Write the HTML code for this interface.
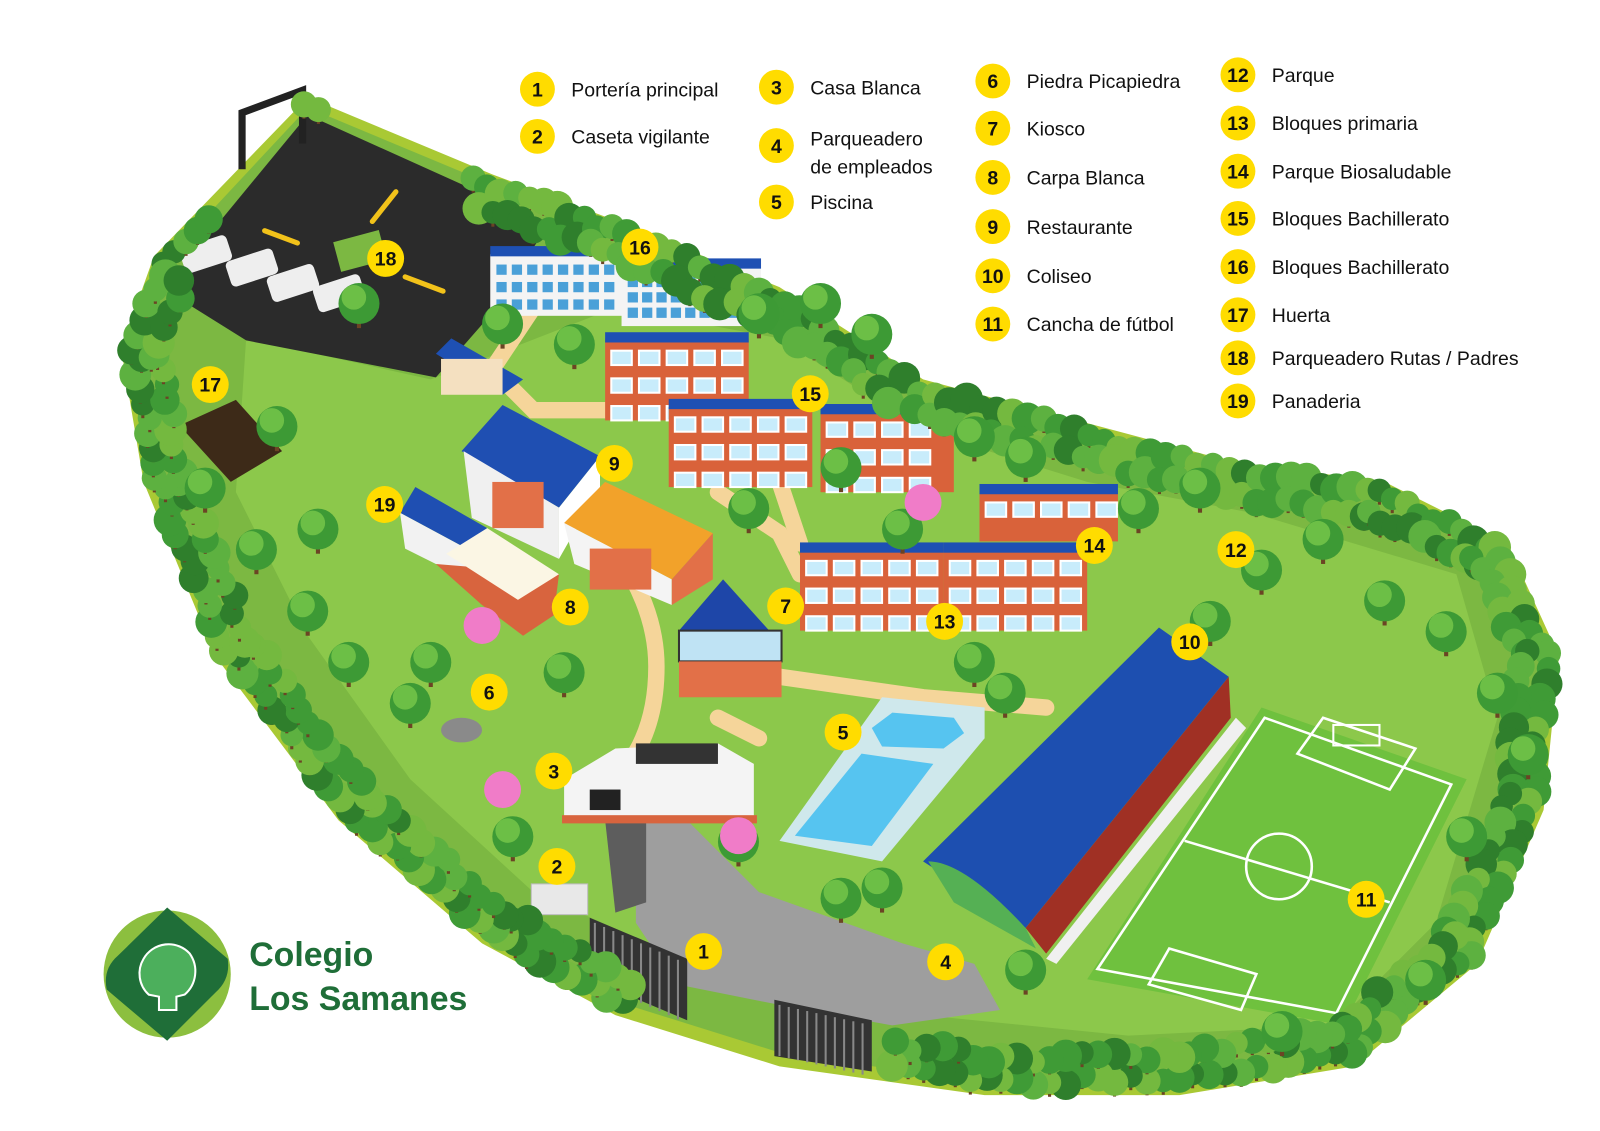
<!DOCTYPE html>
<html><head><meta charset="utf-8"><style>
html,body{margin:0;padding:0;background:#fff;}
svg{display:block}
text{font-family:"Liberation Sans",sans-serif}
</style></head><body>
<svg id="s" width="1600" height="1131" viewBox="0 0 1560 1103" preserveAspectRatio="none" xmlns="http://www.w3.org/2000/svg">
<rect width="1560" height="1103" fill="#fff"/>
<path d="M150,250 L300,95 L480,170 L600,215 L760,280 L900,370 L1050,410 L1200,450 L1350,470 L1470,530 L1520,640 L1505,790 L1440,940 L1320,1040 L1150,1068 L960,1068 L760,1040 L600,990 L470,920 L330,800 L210,640 L140,470 L118,340 Z" fill="#a9c934"/>
<path d="M160,255 L300,105 L480,180 L600,225 L760,290 L900,380 L1050,420 L1200,460 L1345,482 L1460,540 L1505,640 L1492,785 L1428,930 L1312,1028 L1150,1055 L960,1055 L765,1028 L605,978 L478,910 L340,792 L222,635 L152,468 L132,340 Z" fill="#7cb842"/>
<path d="M240,330 L420,370 L600,300 L760,330 L900,420 L1060,470 L1220,500 L1420,560 L1460,700 L1400,900 L1300,1000 L1100,1010 L900,990 L700,950 L520,870 L400,760 L300,620 L230,480 Z" fill="#8cc84b"/>
<path d="M160,282 L300,112 L535,218 L480,305 L425,368 L240,332 Z" fill="#2b2b2b"/>
<path d="M236,165 L236,110 L295,88 L295,140" fill="none" stroke="#222" stroke-width="7"/>
<g stroke="#f2c21a" stroke-width="5" stroke-linecap="round"><line x1="258" y1="225" x2="290" y2="237"/><line x1="363" y1="216" x2="386" y2="187"/><line x1="395" y1="270" x2="432" y2="284"/></g>
<rect x="328" y="230" width="46" height="30" fill="#7cb842" transform="rotate(-15 350 245)"/>
<g id="vans"></g>
<g fill="none" stroke="#f5d59a" stroke-width="16" stroke-linecap="round">
<path d="M520,300 L480,360 L520,400 L590,400"/>
<path d="M560,490 Q640,570 640,650 Q640,720 600,760"/>
<path d="M700,480 L760,520 L780,560"/>
<path d="M760,660 L900,680 L1020,690"/>
<path d="M780,400 L760,470 L780,530"/>
<path d="M740,720 L700,700"/>
</g>
<path d="M600,790 L660,790 L700,830 L740,870 L880,920 L950,940 L975,985 L870,1000 L760,980 L660,960 L620,900 L620,830 Z" fill="#9e9e9e"/>
<path d="M590,800 L630,800 L630,880 L600,890 Z" fill="#5d5d5d"/>
<path d="M575,895 L670,935 L670,995 L575,955 Z" fill="#333"/>
<path d="M755,975 L850,995 L850,1045 L755,1030 Z" fill="#333"/>
<g stroke="#888" stroke-width="2" id="gateBars"></g>
<rect x="518" y="862" width="55" height="30" fill="#e8e8e8" stroke="#bbb"/>
<g>
<rect x="478" y="248" width="132" height="60" fill="#f4f4f4"/><rect x="478" y="240" width="132" height="10" fill="#1e50b3"/>
<rect x="606" y="260" width="136" height="58" fill="#f4f4f4"/><rect x="606" y="252" width="136" height="10" fill="#1e50b3"/>
<g id="w16"></g>
</g>
<path d="M425,345 L440,330 L510,370 L490,385 Z" fill="#1e50b3"/><rect x="430" y="350" width="60" height="35" fill="#f4e0c0"/>
<g id="bricks"></g>
<path d="M450,440 L490,395 L585,445 L545,495 Z" fill="#1f4fb2"/>
<path d="M452,440 L545,495 L545,545 L460,505 Z" fill="#f0f0f0"/>
<rect x="480" y="470" width="50" height="45" fill="#e27048"/>
<path d="M545,495 L585,445 L585,475 L545,545 Z" fill="#fff"/>
<path d="M550,510 L590,470 L695,520 L655,565 Z" fill="#f2a22a"/>
<path d="M550,510 L655,565 L655,590 L560,550 Z" fill="#f4f4f4"/>
<rect x="575" y="535" width="60" height="40" fill="#e27048"/>
<path d="M655,565 L695,520 L695,565 L655,590 Z" fill="#e27048"/>
<path d="M390,500 L405,475 L475,515 L455,535 Z" fill="#1f4fb2"/>
<path d="M390,500 L455,535 L455,565 L395,535 Z" fill="#f2f2f2"/>
<path d="M425,550 L470,590 L510,620 L540,600 L545,560 Z" fill="#d8643e"/>
<path d="M435,540 L475,515 L545,560 L505,585 Z" fill="#fbf6e4"/>
<polygon points="662,615 705,565 750,615" fill="#1e46a8"/>
<rect x="662" y="615" width="100" height="30" fill="#bfe3f4" stroke="#333" stroke-width="2"/>
<rect x="662" y="645" width="100" height="35" fill="#e27048"/>
<path d="M550,760 L600,730 L700,725 L735,745 L735,800 L550,800 Z" fill="#f4f4f4"/>
<rect x="548" y="795" width="190" height="8" fill="#d8643e"/>
<rect x="620" y="725" width="80" height="20" fill="#333"/>
<rect x="575" y="770" width="30" height="20" fill="#222"/>
<path d="M760,820 L860,680 L960,690 L960,720 L860,840 Z" fill="#cfe8ec"/>
<path d="M775,815 L840,735 L910,745 L850,825 Z" fill="#56c4f0"/>
<path d="M850,710 L870,695 L930,700 L940,715 L920,730 L860,728 Z" fill="#56c4f0"/>
<path d="M900,840 L1130,612 L1198,660 L1000,905 Z" fill="#1d4fb0"/>
<path d="M905,840 Q940,840 1000,905 L1010,925 L930,880 Z" fill="#55b054"/>
<path d="M1000,905 L1198,660 L1200,700 L1020,930 Z" fill="#a03024"/>
<path d="M1020,935 L1205,700 L1215,710 L1030,940 Z" fill="#f0f0f0"/>
<path d="M1060,955 L1230,690 L1430,760 L1310,1000 Z" fill="#6fc13e"/>
<g fill="none" stroke="#fff" stroke-width="2.5">
<path d="M1070,945 L1233,700 L1415,765 L1303,988 Z"/>
<line x1="1155" y1="820" x2="1355" y2="880"/>
<circle cx="1247" cy="845" r="32"/>
<path d="M1265,735 L1290,700 L1380,730 L1355,770 Z"/>
<path d="M1120,960 L1140,925 L1225,950 L1210,985 Z"/>
</g>
<rect x="1300" y="707" width="45" height="20" fill="none" stroke="#fff" stroke-width="2"/>
<path d="M175,415 L230,390 L275,440 L225,470 Z" fill="#3d2a18"/>
<g id="trees"></g>
<circle cx="163" cy="950" r="62" fill="#8cbf3f"/>
<path d="M163,885 L222,935 Q225,955 210,968 L163,1015 L104,965 Q100,945 115,932 Z" fill="#1f6e38"/>
<path d="M140,935 A28,28 0 0 1 185,930 A30,30 0 0 1 180,970 L172,972 L172,985 L155,985 L155,972 L145,970 A28,28 0 0 1 140,935Z" fill="#4caf5c" stroke="#fff" stroke-width="2"/>
<text x="243" y="942" font-size="33" font-weight="bold" fill="#1f6e38">Colegio</text>
<text x="243" y="985" font-size="33" font-weight="bold" fill="#1f6e38">Los Samanes</text>
<g id="markers"></g>
<g id="legend" font-size="19" fill="#111"></g>
</svg>
<script>
var NS="http://www.w3.org/2000/svg";
function el(p,t,a,txt){var e=document.createElementNS(NS,t);for(var k in a)e.setAttribute(k,a[k]);if(txt)e.textContent=txt;document.getElementById(p).appendChild(e);return e;}
[[180,262],[225,275],[265,290],[310,300]].forEach(function(v){el('vans','rect',{x:v[0],y:v[1]-20,width:48,height:26,rx:5,fill:'#eee',transform:'rotate(-18 '+v[0]+' '+v[1]+')'});});
for(var r=0;r<3;r++){for(var c=0;c<8;c++)el('w16','rect',{x:484+c*15,y:258+r*17,width:10,height:10,fill:'#4aa0d8'});for(var c=0;c<9;c++)el('w16','rect',{x:612+c*14,y:270+r*15,width:10,height:10,fill:'#4aa0d8'});}
var B=[[590,330,140,80],[652,395,140,80],[800,400,130,80],[955,478,135,50],[780,535,140,80],[920,535,140,80]];
B.forEach(function(b){el('bricks','rect',{x:b[0],y:b[1],width:b[2],height:b[3],fill:'#d9623a'});el('bricks','rect',{x:b[0],y:b[1]-6,width:b[2],height:10,fill:'#1e50b3'});
for(var r=0;r<Math.floor(b[3]/27)+1;r++){if(b[1]+12+r*27+14>b[1]+b[3])break;for(var c=0;c<Math.floor(b[2]/27);c++)el('bricks','rect',{x:b[0]+6+c*27,y:b[1]+12+r*27,width:20,height:14,fill:'#c8ecfb',stroke:'#fff','stroke-width':2});}});
for(var i=0;i<10;i++){el('gateBars','line',{x1:580+i*9,y1:900+i*4,x2:580+i*9,y2:958+i*4});el('gateBars','line',{x1:760+i*9,y1:980+i*2,x2:760+i*9,y2:1030+i*2});}
var pts=[[150,250],[300,95],[480,170],[600,215],[760,280],[900,370],[1050,410],[1200,450],[1350,470],[1470,530],[1520,640],[1505,790],[1440,940],[1320,1040],[1150,1068],[960,1068],[760,1040],[600,990],[470,920],[330,800],[210,640],[140,470],[118,340],[150,250]];
var seed=7;function rnd(){seed=(seed*9301+49297)%233280;return seed/233280;}
var skip=function(x,y){return (x>160&&x<535&&y>110&&y<370&&y<x*0.5+110&&x<460)};
for(var i=0;i<pts.length-1;i++){var a=pts[i],b=pts[i+1];var d=Math.hypot(b[0]-a[0],b[1]-a[1]);var n=Math.ceil(d/16);
for(var j=0;j<n;j++){var t=j/n;var x=a[0]+(b[0]-a[0])*t,y=a[1]+(b[1]-a[1])*t;
for(var k=0;k<2;k++){var nx=-(b[1]-a[1])/d,ny=(b[0]-a[0])/d;var off=8+k*22+rnd()*10;var px=x+nx*off,py=y+ny*off;
if(i<2&&k==1)continue; if(skip(px,py))continue;
if(i>=14&&i<=16&&px>570&&px<860&&py>880)continue;
var col=['#3f9b36','#5db140','#2f7f2c','#74b93f'][Math.floor(rnd()*4)];
el('trees','rect',{x:px-1.5,y:py,width:3,height:12,fill:'#6b4424'});
el('trees','circle',{cx:px,cy:py-2,r:11+rnd()*5,fill:col});}}}
[[740,310],[800,300],[850,330],[560,340],[490,320],[880,520],[730,500],[1110,500],[1170,480],[1230,560],[1290,530],[1350,590],[1410,620],[1460,680],[1490,740],[1430,820],[1390,960],[1250,1010],[1000,950],[860,870],[820,880],[720,825],[550,660],[420,650],[400,690],[300,600],[250,540],[200,480],[310,520],[340,650],[500,820],[270,420],[350,300],[950,430],[1000,450],[820,460],[1180,610],[950,650],[980,680]].forEach(function(p){el('trees','rect',{x:p[0]-2,y:p[1],width:4,height:20,fill:'#6b4424'});el('trees','circle',{cx:p[0],cy:p[1]-4,r:20,fill:'#3d9a35'});el('trees','circle',{cx:p[0]-5,cy:p[1]-10,r:12,fill:'#6cbf46'});});
[[490,770],[720,815],[470,610],[900,490]].forEach(function(p){el('trees','circle',{cx:p[0],cy:p[1],r:18,fill:'#f07cc8'});});
el('trees','ellipse',{cx:450,cy:712,rx:20,ry:12,fill:'#8a8a8a'});
var M=[[18,376,252],[16,624,241],[17,205,375],[15,790,384],[9,599,452],[19,375,492],[14,1067,532],[12,1205,536],[7,766,591],[8,556,592],[13,921,606],[10,1160,626],[6,477,675],[5,822,714],[3,540,752],[2,543,845],[11,1332,877],[1,686,928],[4,922,938]];
M.forEach(function(m){el('markers','circle',{cx:m[1],cy:m[2],r:18,fill:'#ffdc00'});el('markers','text',{x:m[1],y:m[2]+7,'text-anchor':'middle','font-size':19,'font-weight':'bold',fill:'#111'},''+m[0]);});
var L=[[1,524,87,'Portería principal'],[2,524,133,'Caseta vigilante'],[3,757,85,'Casa Blanca'],[4,757,142,''],[5,757,197,'Piscina'],
[6,968,79,'Piedra Picapiedra'],[7,968,125,'Kiosco'],[8,968,173,'Carpa Blanca'],[9,968,221,'Restaurante'],[10,968,269,'Coliseo'],[11,968,316,'Cancha de fútbol'],
[12,1207,73,'Parque'],[13,1207,120,'Bloques primaria'],[14,1207,167,'Parque Biosaludable'],[15,1207,213,'Bloques Bachillerato'],[16,1207,260,'Bloques Bachillerato'],[17,1207,307,'Huerta'],[18,1207,349,'Parqueadero Rutas / Padres'],[19,1207,391,'Panaderia']];
L.forEach(function(l){el('legend','circle',{cx:l[1],cy:l[2],r:17,fill:'#ffdc00'});el('legend','text',{x:l[1],y:l[2]+7,'text-anchor':'middle','font-size':19,'font-weight':'bold'},''+l[0]);if(l[3])el('legend','text',{x:l[1]+33,y:l[2]+7},l[3]);});
el('legend','text',{x:790,y:142},'Parqueadero');el('legend','text',{x:790,y:169},'de empleados');
</script>
</body></html>
